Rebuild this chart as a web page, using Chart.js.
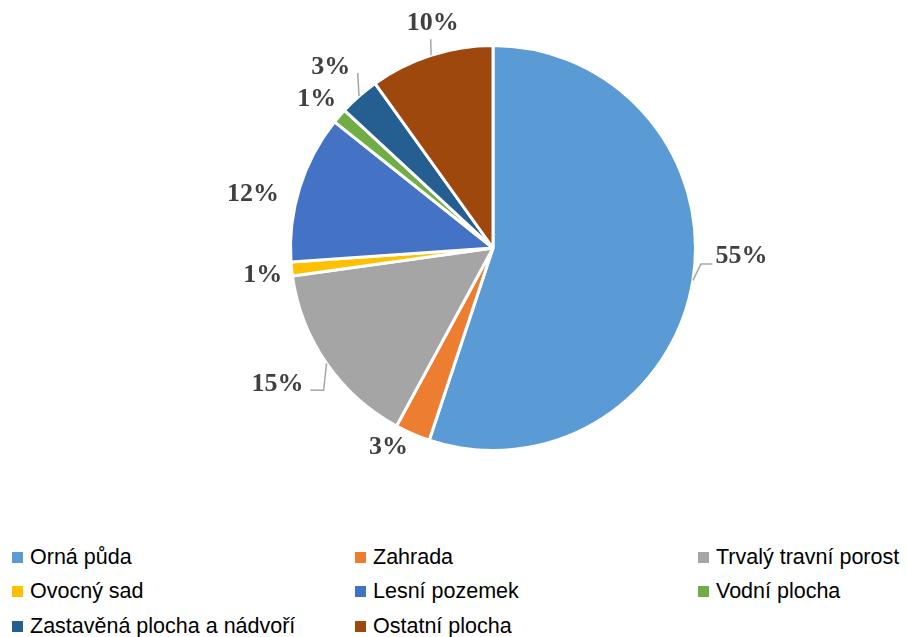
<!DOCTYPE html>
<html>
<head>
<meta charset="utf-8">
<script src="https://cdn.jsdelivr.net/npm/chart.js@4"></script>
<style>
  html, body { margin: 0; padding: 0; background: #fff; }
  #wrap { position: relative; width: 907px; height: 637px; }
  #chartBox { position: absolute; left: 0; top: 0; width: 907px; height: 520px; }
  #legend { position: absolute; left: 12px; top: 540px; width: 895px;
            display: grid; grid-template-columns: 343px 343px 209px; grid-auto-rows: 34.5px;
            font-family: "Liberation Sans", Arial, sans-serif;
            font-size: 21.5px; color: #000; }
  #legend .item { display: flex; align-items: center; white-space: nowrap; }
  #legend .box { width: 11px; height: 11px; margin-right: 7px; flex: none; }
</style>
</head>
<body>
<div id="wrap">
  <div id="chartBox"><canvas id="pieChart"></canvas></div>
  <div id="legend"></div>
</div>
<script>
var categories = ['Orná půda', 'Zahrada', 'Trvalý travní porost', 'Ovocný sad',
                  'Lesní pozemek', 'Vodní plocha', 'Zastavěná plocha a nádvoří', 'Ostatní plocha'];
var shares = [55.1, 2.8, 14.9, 1.1, 11.8, 1.2, 3.2, 9.9];
var colors = ['#5B9BD5', '#ED7D31', '#A5A5A5', '#FFC000', '#4472C4', '#70AD47', '#255E91', '#9E480E'];

// label placement: angle nudge (deg) and distance beyond the rim
var labelNudge = [[-8, 46], [4.6, 20], [3, 51], [0, 29], [-4, 44], [0, 30], [0, 43], [3, 33]];
// leader lines: end point relative to label centre, elbow shift (null = straight)
var leaders = [{ end: [-29, 8], elbow: 8 }, null, { end: [33, 6], elbow: -3 }, null,
               null, null, { end: [27, 6], elbow: null }, { end: [-2, 16], elbow: null }];

var total = shares.reduce(function (a, b) { return a + b; }, 0);

var labelPlugin = {
    id: 'pctLabels',
    afterDatasetsDraw: function (chart) {
        var ctx = chart.ctx;
        var arcs = chart.getDatasetMeta(0).data;
        ctx.save();
        ctx.font = 'bold 26px "Liberation Serif", "Times New Roman", serif';
        ctx.fillStyle = '#404040';
        ctx.textAlign = 'center';
        ctx.textBaseline = 'middle';
        arcs.forEach(function (arc, i) {
            var p = arc.getProps(['x', 'y', 'startAngle', 'endAngle', 'outerRadius'], true);
            var mid = (p.startAngle + p.endAngle) / 2;
            var a = mid + labelNudge[i][0] * Math.PI / 180;
            var d = p.outerRadius + labelNudge[i][1];
            var lx = p.x + Math.cos(a) * d;
            var ly = p.y + Math.sin(a) * d + 3;
            var ld = leaders[i];
            if (ld) {
                var sx = p.x + Math.cos(mid) * p.outerRadius;
                var sy = p.y + Math.sin(mid) * p.outerRadius;
                var ex = lx + ld.end[0], ey = ly + ld.end[1];
                ctx.beginPath();
                ctx.strokeStyle = '#A6A6A6';
                ctx.lineWidth = 1.5;
                ctx.moveTo(sx, sy);
                if (ld.elbow !== null) ctx.lineTo(sx + ld.elbow, ey);
                ctx.lineTo(ex, ey);
                ctx.stroke();
            }
            ctx.fillText(Math.round(shares[i] / total * 100) + '%', lx, ly);
        });
        ctx.restore();
    }
};

var ctx = document.getElementById('pieChart').getContext('2d');
var pieChart = new Chart(ctx, {
    type: 'pie',
    data: {
        labels: categories,
        datasets: [{
            data: shares,
            backgroundColor: colors,
            borderColor: '#ffffff',
            borderWidth: 3
        }]
    },
    options: {
        responsive: true,
        maintainAspectRatio: false,
        animation: false,
        layout: { padding: { left: 289, right: 210, top: 44, bottom: 68 } },
        plugins: {
            legend: { display: false },
            tooltip: { enabled: false }
        }
    },
    plugins: [labelPlugin]
});

var legendEl = document.getElementById('legend');
categories.forEach(function (name, i) {
    var item = document.createElement('div');
    item.className = 'item';
    var box = document.createElement('span');
    box.className = 'box';
    box.style.background = colors[i];
    var txt = document.createElement('span');
    txt.textContent = name;
    item.appendChild(box);
    item.appendChild(txt);
    legendEl.appendChild(item);
});
</script>
</body>
</html>
